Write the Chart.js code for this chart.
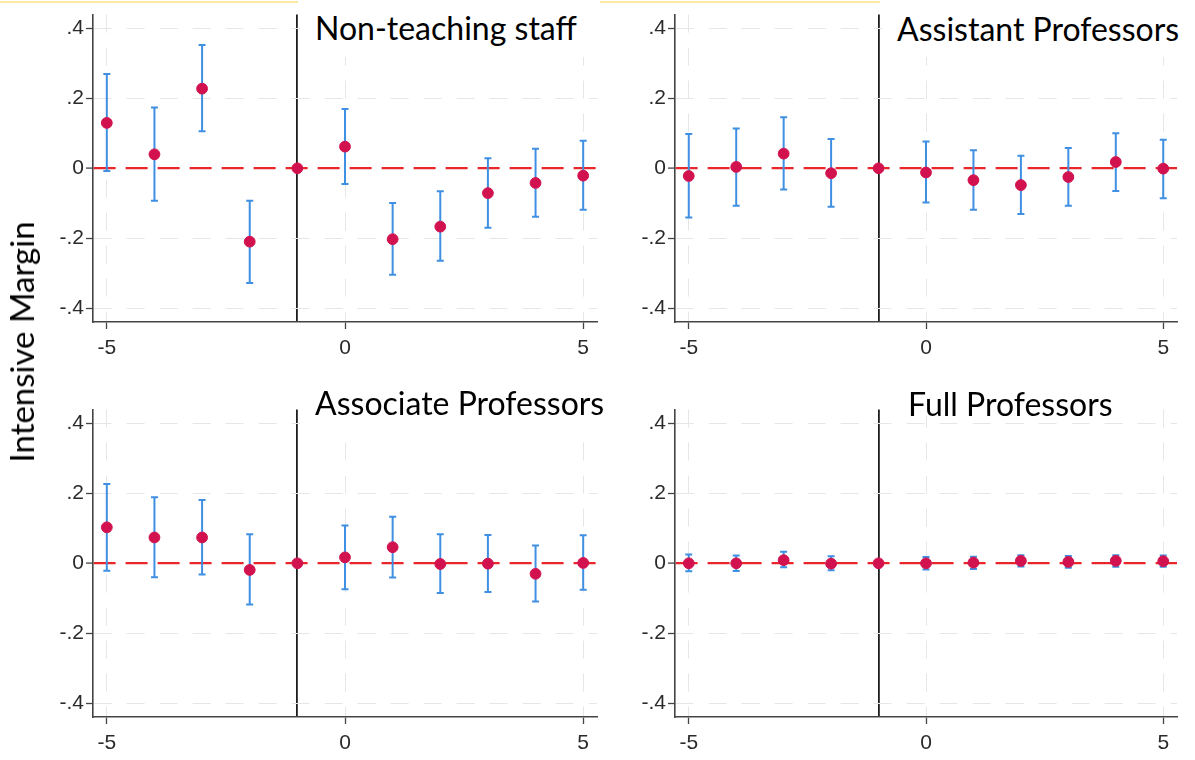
<!DOCTYPE html>
<html>
<head>
<meta charset="utf-8">
<title>Intensive Margin event study</title>
<script src="https://cdn.jsdelivr.net/npm/chart.js@4.4.1/dist/chart.umd.min.js"></script>
<style>
  body { margin: 0; background: #fff; width: 1195px; height: 760px; position: relative; overflow: hidden; }
  .panel { position: absolute; }
  .title { position: absolute; background: #fff; font-family: Lato, "Open Sans", sans-serif; font-size: 32px; color: #000; white-space: nowrap; }
  .ytitle { position: absolute; font-family: Lato, "Open Sans", sans-serif; font-size: 33px; color: #000; white-space: nowrap;
            transform: translate(-50%, -50%) rotate(-90deg); left: 21px; top: 342px; }
  .strip { position: absolute; top: 1px; height: 2px; background: #fde9a6; }
</style>
</head>
<body>
<div class="strip" style="left:0;width:298px"></div>
<div class="strip" style="left:597px;width:283px"></div>

<div class="panel" style="left:40px;top:0;"><canvas id="c1" width="570" height="375"></canvas></div>
<div class="panel" style="left:620px;top:0;"><canvas id="c2" width="570" height="375"></canvas></div>
<div class="panel" style="left:40px;top:395px;"><canvas id="c3" width="570" height="365"></canvas></div>
<div class="panel" style="left:620px;top:395px;"><canvas id="c4" width="570" height="365"></canvas></div>

<div class="title" id="t1" style="left:300px;top:0;width:300px;height:57px;line-height:56px;padding-left:15px;box-sizing:border-box"></div>
<div class="title" id="t2" style="left:882px;top:0;width:300px;height:57px;line-height:58px;padding-left:15px;box-sizing:border-box"></div>
<div class="title" id="t3" style="left:300px;top:384px;width:310px;height:56px;line-height:38px;padding-left:15px;box-sizing:border-box"></div>
<div class="title" id="t4" style="left:893px;top:384px;width:230px;height:32px;line-height:40px;padding-left:15px;box-sizing:border-box"></div>
<div class="ytitle" id="ylab"></div>

<script>
// event time relative to the reform; -1 is the omitted reference period
var eventTime = [-5, -4, -3, -2, -1, 0, 1, 2, 3, 4, 5];
var refPeriod = -1;

var xTicks = [-5, 0, 5];
var yTicks = [-0.4, -0.2, 0, 0.2, 0.4];
var xMin = -5.29, xMax = 5.29;
var yMin = -0.44, yMax = 0.44;

var yAxisTitle = 'Intensive Margin';
var panelTitles = ['Non-teaching staff', 'Assistant Professors', 'Associate Professors', 'Full Professors'];

// point estimates and 95% CI bounds
var nonTeachCoef = [0.130, 0.040, 0.228, -0.210, 0, 0.062, -0.203, -0.167, -0.071, -0.042, -0.021];
var nonTeachLo   = [-0.008, -0.093, 0.106, -0.328, null, -0.045, -0.305, -0.265, -0.170, -0.139, -0.119];
var nonTeachHi   = [0.270, 0.174, 0.353, -0.093, null, 0.170, -0.099, -0.066, 0.029, 0.056, 0.079];

var assistCoef = [-0.022, 0.004, 0.042, -0.014, 0, -0.012, -0.034, -0.048, -0.025, 0.018, -0.001];
var assistLo   = [-0.141, -0.107, -0.061, -0.110, null, -0.098, -0.119, -0.131, -0.107, -0.065, -0.086];
var assistHi   = [0.098, 0.114, 0.146, 0.084, null, 0.077, 0.052, 0.036, 0.058, 0.100, 0.082];

var assocCoef = [0.103, 0.074, 0.074, -0.019, 0, 0.017, 0.046, -0.002, -0.001, -0.030, 0.001];
var assocLo   = [-0.021, -0.040, -0.032, -0.118, null, -0.074, -0.041, -0.085, -0.082, -0.109, -0.076];
var assocHi   = [0.227, 0.189, 0.181, 0.083, null, 0.108, 0.133, 0.083, 0.081, 0.051, 0.080];

var fullCoef = [0.000, 0.000, 0.009, -0.001, 0, 0.000, 0.002, 0.007, 0.004, 0.007, 0.006];
var fullLo   = [-0.023, -0.022, -0.011, -0.020, null, -0.018, -0.016, -0.009, -0.013, -0.010, -0.010];
var fullHi   = [0.025, 0.022, 0.033, 0.020, null, 0.018, 0.019, 0.023, 0.021, 0.023, 0.022];

var tickFont = { family: '"Liberation Sans", Arial, sans-serif', size: 21 };

function fmtY(v) {
    if (v === 0) return '0';
    var s = String(Math.abs(Math.round(v * 10) / 10)).replace(/^0/, '');
    return (v < 0 ? '-' : '') + s;
}

function tickVal(c) {
    return c && c.tick ? c.tick.value : null;
}

function makePanel(id, coef, lo, hi, box) {
    var points = eventTime.map(function (x, i) { return { x: x, y: coef[i] }; });

    // each CI is its own segment, split by a null point
    var bars = [];
    eventTime.forEach(function (x, i) {
        if (lo[i] === null) return;
        bars.push({ x: x, y: lo[i] });
        bars.push({ x: x, y: hi[i] });
        bars.push({ x: x, y: null });
    });

    return new Chart(document.getElementById(id), {
        type: 'scatter',
        data: {
            datasets: [{
                data: points,
                pointRadius: 5.4,
                pointBackgroundColor: '#d2124f',
                pointBorderColor: '#d2124f',
                pointBorderWidth: 1
            }, {
                data: bars,
                showLine: true,
                spanGaps: false,
                borderColor: '#3f8fe2',
                borderWidth: 2,
                pointStyle: 'line',
                pointRadius: 3.5,
                pointBorderColor: '#3f8fe2',
                pointBorderWidth: 2
            }]
        },
        options: {
            responsive: false,
            animation: false,
            layout: { padding: { top: box.top, right: box.right, left: 0, bottom: 0 } },
            plugins: { legend: { display: false }, tooltip: { enabled: false } },
            scales: {
                x: {
                    type: 'linear',
                    min: xMin,
                    max: xMax,
                    afterBuildTicks: function (scale) {
                        scale.ticks = xTicks.concat([refPeriod]).sort(function (a, b) { return a - b; })
                            .map(function (v) { return { value: v }; });
                    },
                    afterFit: function (scale) { scale.height = box.xh; },
                    ticks: {
                        autoSkip: false,
                        maxRotation: 0,
                        padding: 7,
                        color: '#2a2a2a',
                        font: tickFont,
                        callback: function (v) { return v === refPeriod ? '' : String(v); }
                    },
                    grid: {
                        color: function (c) { return tickVal(c) === refPeriod ? '#1e1e1e' : '#e6e6e6'; },
                        lineWidth: function (c) { return tickVal(c) === refPeriod ? 1.8 : 1; },
                        tickLength: 7,
                        tickWidth: 1.3,
                        tickColor: function (c) { return tickVal(c) === refPeriod ? 'rgba(0,0,0,0)' : '#444'; },
                        tickBorderDash: []
                    },
                    border: {
                        color: '#444',
                        width: 1.6,
                        dash: function (c) { return tickVal(c) === refPeriod ? [] : [18, 15]; }
                    }
                },
                y: {
                    type: 'linear',
                    min: yMin,
                    max: yMax,
                    afterBuildTicks: function (scale) {
                        scale.ticks = yTicks.map(function (v) { return { value: v }; });
                    },
                    afterFit: function (scale) { scale.width = box.yw; },
                    ticks: {
                        padding: 2,
                        color: '#2a2a2a',
                        font: tickFont,
                        callback: function (v) { return fmtY(v); }
                    },
                    grid: {
                        color: function (c) { return tickVal(c) === 0 ? '#e8262b' : '#e6e6e6'; },
                        lineWidth: function (c) { return tickVal(c) === 0 ? 2.2 : 1; },
                        tickLength: 7,
                        tickWidth: 1.3,
                        tickColor: '#444',
                        tickBorderDash: []
                    },
                    border: {
                        color: '#444',
                        width: 1.6,
                        dash: function (c) { return tickVal(c) === 0 ? [22, 10] : [18, 15]; }
                    }
                }
            }
        }
    });
}

makePanel('c1', nonTeachCoef, nonTeachLo, nonTeachHi, { top: 10, right: 13, yw: 53, xh: 53 });
makePanel('c2', assistCoef, assistLo, assistHi, { top: 10, right: 13, yw: 55, xh: 53 });
makePanel('c3', assocCoef, assocLo, assocHi, { top: 10, right: 13, yw: 53, xh: 43 });
makePanel('c4', fullCoef, fullLo, fullHi, { top: 10, right: 13, yw: 55, xh: 43 });

['t1', 't2', 't3', 't4'].forEach(function (id, i) {
    document.getElementById(id).textContent = panelTitles[i];
});
document.getElementById('ylab').textContent = yAxisTitle;
</script>
</body>
</html>
